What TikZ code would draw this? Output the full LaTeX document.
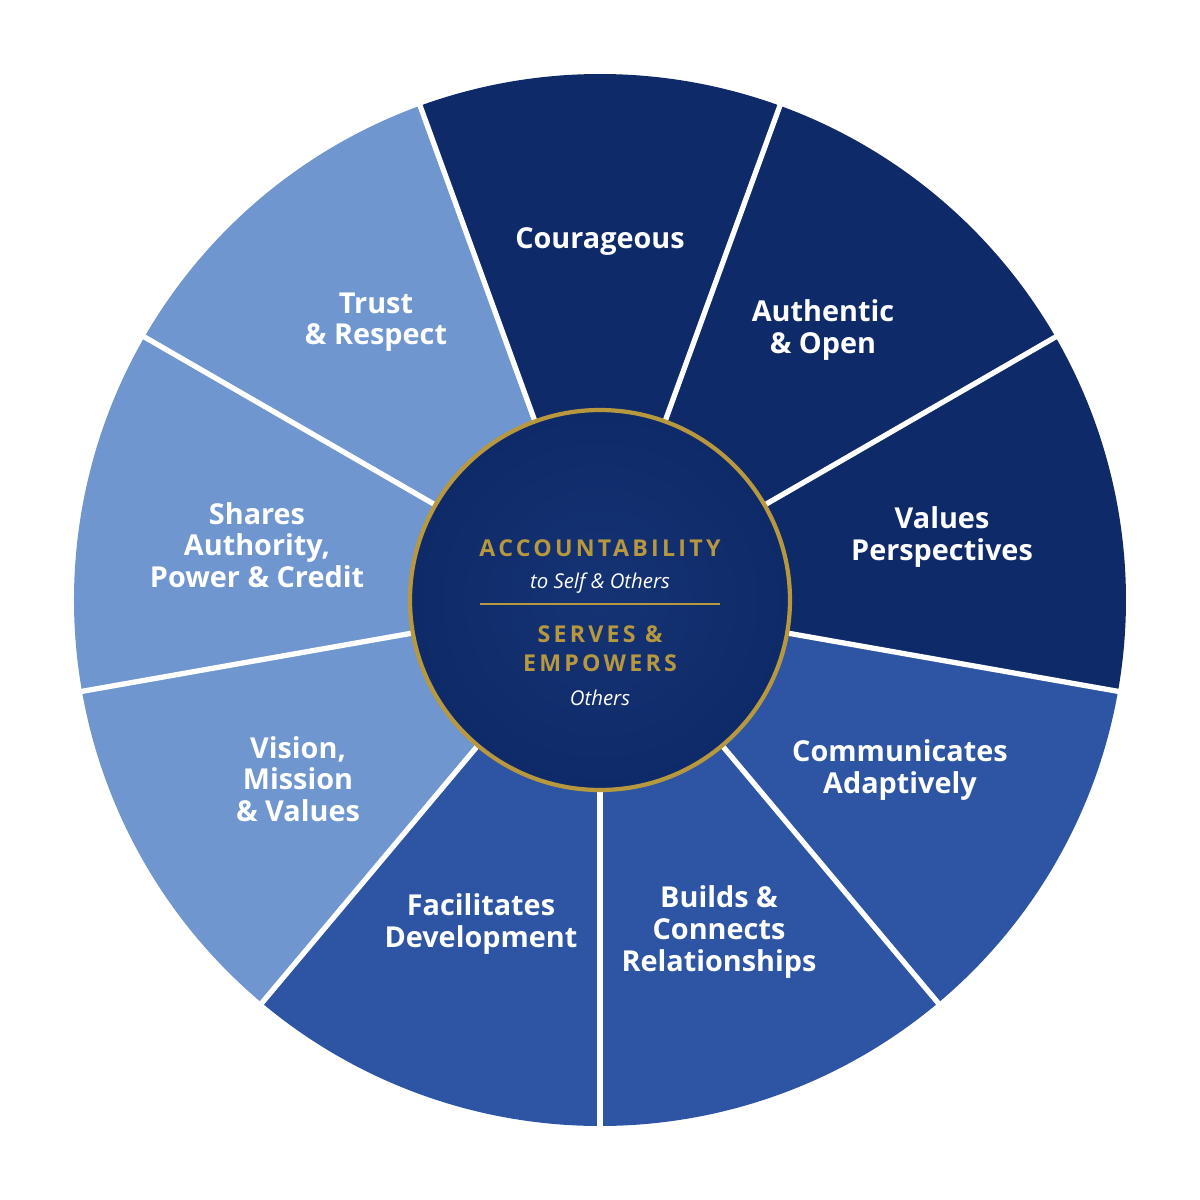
\documentclass[tikz,border=0pt]{standalone}
\usepackage{fontspec}
\setmainfont{Open Sans}
\definecolor{navy}{HTML}{0F2A68}
\definecolor{mid}{HTML}{2D55A4}
\definecolor{light}{HTML}{7096D0}
\definecolor{gold}{HTML}{B8983E}
\begin{document}
\begin{tikzpicture}
\useasboundingbox[fill=white] (-6,-6) rectangle (6,6);
\def\R{5.26}
\foreach \a/\c in {70/navy,30/navy,-10/navy,-50/mid,-90/mid,-130/mid,-170/light,150/light,110/light}{
  \fill[\c] (0,0) -- (\a:\R) arc (\a:\a+40:\R) -- cycle;
}
\foreach \a in {70,30,-10,-50,-90,-130,-170,150,110}{
  \draw[white,line width=1.5pt] (0,0) -- (\a:\R+0.02);
}
\tikzset{lab/.style={text=white,font=\bfseries\fontsize{8.2}{9}\selectfont,align=center}}
\node[lab] (c1) at (0,3.58) {Courageous};
\node[lab] (c2) at (2.23,2.7) {Authentic\\\& Open};
\node[lab] (c3) at (3.42,0.63) {Values\\Perspectives};
\node[lab] (c4) at (3.0,-1.7) {Communicates\\Adaptively};
\node[lab] (c5) at (1.19,-3.32) {Builds \&\\Connects\\Relationships};
\node[lab] (c6) at (-1.19,-3.24) {Facilitates\\Development};
\node[lab] (c7) at (-3.02,-1.79) {Vision,\\Mission\\\& Values};
\node[lab] (c8) at (-3.43,0.55) {Shares\\Authority,\\Power \& Credit};
\node[lab] (c9) at (-2.24,2.78) {Trust\\\& Respect};
\shade[inner color=navy!80!mid, outer color=navy] (0,0) circle (1.9);
\draw[gold,line width=1.2pt] (0,0) circle (1.9);
\node[text=gold,font=\bfseries\fontsize{6.6}{7}\selectfont\addfontfeature{LetterSpace=14}] (acc) at (0,0.52) {ACCOUNTABILITY};
\node[text=white,font=\itshape\fontsize{5.8}{7}\selectfont] (ts) at (0,0.17) {to Self \& Others};
\draw[gold,line width=0.5pt] (-1.2,-0.04) -- (1.2,-0.04);
\node[text=gold,font=\bfseries\fontsize{6.6}{8.3}\selectfont\addfontfeature{LetterSpace=14},align=center] (se) at (0,-0.49) {SERVES \&\\EMPOWERS};
\node[text=white,font=\itshape\fontsize{5.8}{7}\selectfont] (ot) at (0,-0.98) {Others};
\end{tikzpicture}
\end{document}
